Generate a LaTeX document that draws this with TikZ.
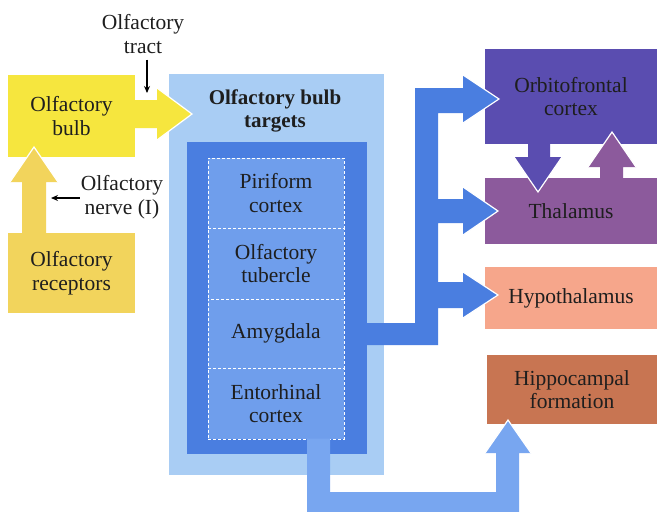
\documentclass[tikz,border=0pt]{standalone}
\usepackage{fontspec}
\setmainfont{Liberation Serif}
\usetikzlibrary{arrows.meta}
\definecolor{bulbY}{HTML}{F6E63E}
\definecolor{recY}{HTML}{F2D45C}
\definecolor{outerB}{HTML}{A9CDF4}
\definecolor{darkB}{HTML}{4A7EE0}
\definecolor{innerB}{HTML}{6F9EEC}
\definecolor{connB}{HTML}{78A6F0}
\definecolor{orbC}{HTML}{5A4DB0}
\definecolor{thalC}{HTML}{8C5A9C}
\definecolor{hypoC}{HTML}{F6A68B}
\definecolor{hipC}{HTML}{C87552}
\definecolor{txt}{HTML}{1E1E1E}
\tikzset{
  box/.style={rectangle, inner sep=0pt, align=center, text=txt,
    font=\fontsize{21.5}{23.5}\selectfont},
  innerbox/.style={box, fill=innerB, draw=white, densely dashed, line width=0.8pt,
    minimum width=136pt},
  lbl/.style={inner sep=0pt, align=center, text=txt, font=\fontsize{21.5}{23.5}\selectfont},
  thinarrow/.style={-{Stealth[length=7pt,width=6pt]}, line width=1.3pt, black},
  headedge/.style={white, line width=1.2pt, line join=miter}
}
\begin{document}
\begin{tikzpicture}[x=1pt,y=-1pt]
\useasboundingbox (0,0) rectangle (657,512);
\fill[white] (0,0) rectangle (657,512);

% left boxes
\node[box, fill=bulbY, minimum width=127pt, minimum height=82pt] (bulb) at (71.5,116) {Olfactory\\bulb};
\node[box, fill=recY, minimum width=127pt, minimum height=80pt] (rec) at (71.5,273) {Olfactory\\receptors};

% targets
\node[box, fill=outerB, minimum width=215pt, minimum height=401pt] (outer) at (276.5,274.5) {};
\node[lbl, font=\fontsize{21}{23}\selectfont\bfseries] (title) at (275,111) {Olfactory bulb\\targets};
\node[box, fill=darkB, minimum width=180pt, minimum height=312pt] (dark) at (277,298) {};
\node[innerbox, minimum height=70pt] (pir) at (276,193) {Piriform\\cortex};
\node[innerbox, minimum height=71pt] (tub) at (276,263.5) {Olfactory\\tubercle};
\node[innerbox, minimum height=69pt] (amy) at (276,333.5) {Amygdala};
\node[innerbox, minimum height=71pt] (ent) at (276,403.5) {Entorhinal\\cortex};

% right boxes
\node[box, fill=orbC, minimum width=172pt, minimum height=95pt] (orb) at (571,96.5) {Orbitofrontal\\cortex};
\node[box, fill=thalC, minimum width=172pt, minimum height=66pt] (thal) at (571,211) {Thalamus};
\node[box, fill=hypoC, minimum width=172pt, minimum height=62pt] (hypo) at (571,298) {Hypothalamus};
\node[box, fill=hipC, minimum width=170pt, minimum height=69pt] (hip) at (572,389.5) {Hippocampal\\formation};

% receptors -> bulb
\fill[recY] (22,233.5) -- (22,182) -- (10,182) -- (34,147) -- (58,182) -- (46,182) -- (46,233.5) -- cycle;
\draw[headedge] (10,182) -- (34,147) -- (58,182);

% bulb -> targets
\fill[bulbY] (134,100) -- (157,100) -- (157,88) -- (192,114) -- (157,140) -- (157,128) -- (134,128) -- cycle;
\draw[headedge] (157,88) -- (192,114) -- (157,140);

% entorhinal -> hippocampal
\fill[connB] (307,438.5) -- (330,438.5) -- (330,492) -- (496,492) -- (496,453) -- (485,453) -- (508,420) -- (531,453) -- (519,453) -- (519,512) -- (307,512) -- cycle;
\draw[headedge] (485,453) -- (508,420) -- (531,453);

% amygdala -> orbitofrontal, thalamus, hypothalamus
\fill[darkB] (366,323) -- (415,323) -- (415,88) -- (463,88) -- (463,75) -- (499,99) -- (463,123) -- (463,113)
  -- (438,113) -- (438,199) -- (463,199) -- (463,187) -- (498,211) -- (463,235) -- (463,223)
  -- (438,223) -- (438,282) -- (463,282) -- (463,272) -- (498,295) -- (463,318) -- (463,308)
  -- (438,308) -- (438,345) -- (366,345) -- cycle;
\draw[headedge] (463,75) -- (499,99) -- (463,123);
\draw[headedge] (463,187) -- (498,211) -- (463,235);
\draw[headedge] (463,272) -- (498,295) -- (463,318);

% orbitofrontal -> thalamus
\fill[orbC] (528,143) -- (550,143) -- (550,157) -- (562,157) -- (538,192) -- (514,157) -- (528,157) -- cycle;
\draw[headedge] (562,157) -- (538,192) -- (514,157);
% thalamus -> orbitofrontal
\fill[thalC] (600,179) -- (600,167) -- (588,167) -- (612,132) -- (636,167) -- (623,167) -- (623,179) -- cycle;
\draw[headedge] (588,167) -- (612,132) -- (636,167);

% labels with thin arrows
\node[lbl] (tract) at (143,34) {Olfactory\\tract};
\coordinate (tractend) at (147,93);
\draw[thinarrow] (tract.south -| tractend) ++(0,6) -- (tractend);
\node[lbl] (nerve) at (122,197) {Olfactory\\nerve (I)};
\coordinate (nerveend) at (51,198);
\draw[thinarrow] (nerve.west |- nerveend) ++(-1,0) -- (nerveend);
\end{tikzpicture}
\end{document}
